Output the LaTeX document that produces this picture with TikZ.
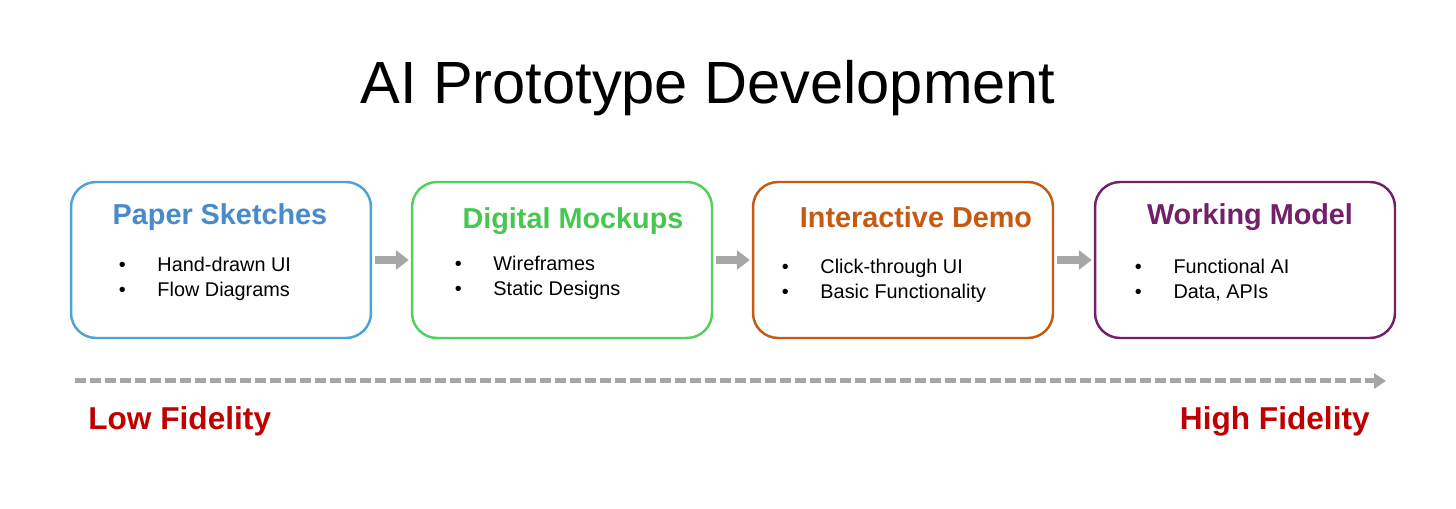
\documentclass[tikz,border=0pt]{standalone}
\usepackage{fontspec}
\setmainfont{Liberation Sans}
\usetikzlibrary{shapes.geometric,arrows,arrows.meta}
\definecolor{skblue}{RGB}{76,164,214}
\definecolor{sktitle}{RGB}{72,138,204}
\definecolor{mkgreen}{RGB}{82,208,92}
\definecolor{mktitle}{RGB}{70,200,80}
\definecolor{dmorange}{RGB}{197,90,17}
\definecolor{wmpurple}{RGB}{114,32,106}
\definecolor{fidred}{RGB}{192,0,0}
\definecolor{arrgray}{RGB}{166,166,166}
\tikzstyle{stage} = [rectangle, rounded corners=0.5cm, line width=1.4pt, minimum width=6cm, minimum height=3.12cm, fill=white]
\tikzstyle{sk} = [stage, draw=skblue]
\tikzstyle{mk} = [stage, draw=mkgreen]
\tikzstyle{dm} = [stage, draw=dmorange]
\tikzstyle{wm} = [stage, draw=wmpurple]
\tikzstyle{stagetitle} = [font=\fontsize{16.4}{20}\selectfont\bfseries]
\tikzstyle{items} = [anchor=west, align=left, inner sep=0pt, font=\fontsize{11.3}{14.2}\selectfont]
\tikzstyle{fid} = [font=\fontsize{18}{22}\selectfont\bfseries, text=fidred, inner sep=0pt]
\tikzstyle{step_arrow} = [draw=arrgray, line width=0.15cm, -{Triangle[length=0.26cm,width=0.38cm]}, shorten <=0.06cm, shorten >=0.04cm]
\newcommand{\itm}[1]{\makebox[22pt][l]{\textbullet}#1}
\begin{document}
\begin{tikzpicture}[x=0.02cm, y=-0.02cm]
    \useasboundingbox (0,0) rectangle (1456,509);
    \node (Title) at (708,88) {\fontsize{33.9}{40}\selectfont AI Prototype Development};
    \node (Paper) [sk] at (221,260) {};
    \node (Mockups) [mk] at (562,260) {};
    \node (Demo) [dm] at (903,260) {};
    \node (Model) [wm] at (1245,260) {};
    \node (PaperT) [stagetitle, text=sktitle] at (220,217) {Paper Sketches};
    \node (MockupsT) [stagetitle, text=mktitle] at (573,221) {Digital Mockups};
    \node (DemoT) [stagetitle, text=dmorange] at (916,217) {Interactive Demo};
    \node (ModelT) [stagetitle, text=wmpurple] at (1250,217) {Working Model};
    \node (PaperL) [items] at (118.5,278.5) {\itm{Hand-drawn UI}\\\itm{Flow Diagrams}};
    \node (MockupsL) [items] at (454.5,277.5) {\itm{Wireframes}\\\itm{Static Designs}};
    \node (DemoL) [items] at (781.5,280.5) {\itm{Click-through UI}\\\itm{Basic Functionality}};
    \node (ModelL) [items] at (1134.5,280.5) {\itm{Functional AI}\\\itm{Data, APIs}};
    \draw[step_arrow] (Paper) -- (Mockups);
    \draw[step_arrow] (Mockups) -- (Demo);
    \draw[step_arrow] (Demo) -- (Model);
    \coordinate (LowEnd) at (75,381);
    \coordinate (HighEnd) at (1386,381);
    \draw[draw=arrgray, line width=0.1cm, dash pattern=on 0.22cm off 0.08cm, -{Triangle[length=0.24cm,width=0.3cm]}] (LowEnd) -- (HighEnd);
    \node (Low) [fid, anchor=west] at (88,421) {Low Fidelity};
    \node (High) [fid, anchor=east] at (1370,421) {High Fidelity};
\end{tikzpicture}
\end{document}
